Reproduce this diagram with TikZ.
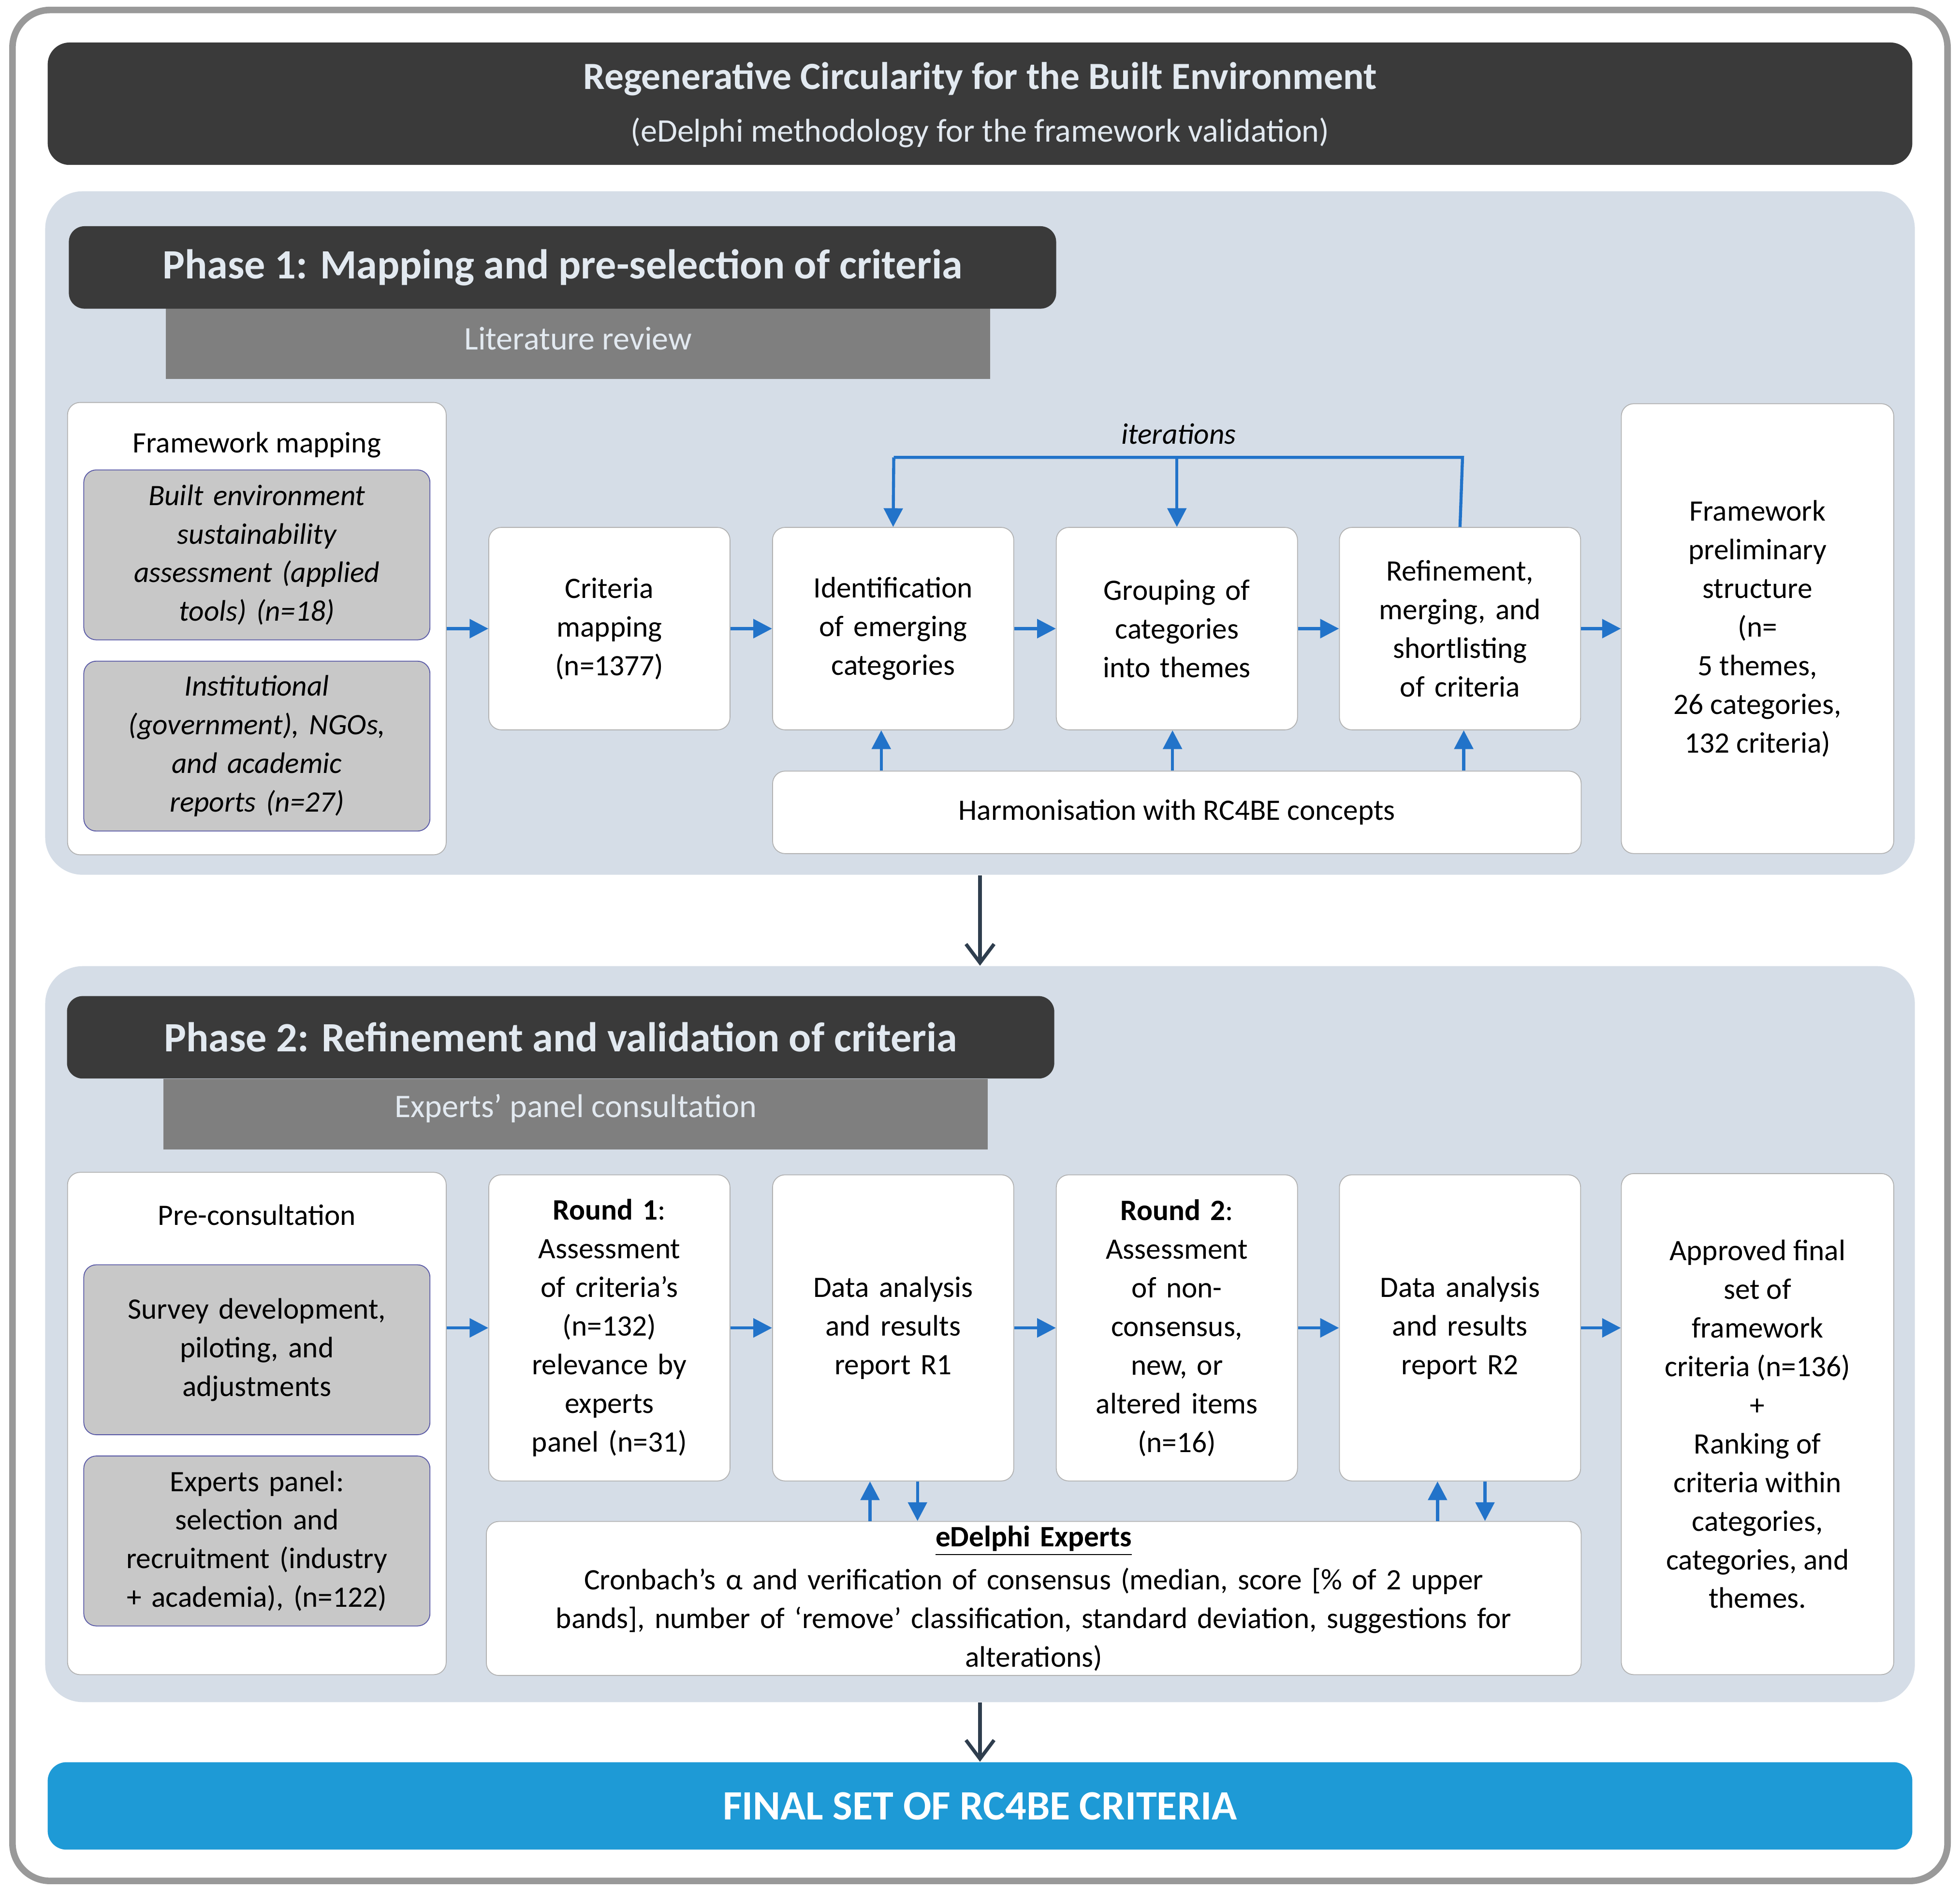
\documentclass[tikz,border=0pt]{standalone}
\usepackage{fontspec}
\setmainfont{Carlito}
\usetikzlibrary{arrows.meta}
\definecolor{darkbox}{HTML}{3A3A3A}
\definecolor{panelbg}{HTML}{D5DDE7}
\definecolor{barbg}{HTML}{7F7F7F}
\definecolor{graybox}{HTML}{C8C8C8}
\definecolor{flowblue}{HTML}{2273C9}
\definecolor{finalblue}{HTML}{1E9AD6}
\definecolor{darkarrow}{HTML}{2F3E4E}
\definecolor{headtext}{HTML}{E2E9F0}
\tikzset{
  body/.style={font=\fontsize{13.5}{17.6}\selectfont},
  box/.style={body, draw=gray!60, fill=white, rounded corners=0.2cm, align=center, inner sep=2pt},
  stage/.style={box, minimum width=3.86cm, text width=3.5cm},
  greybox/.style={box, fill=graybox, draw=gray!70!blue, minimum width=5.54cm, minimum height=2.72cm, text width=5.2cm},
  panel/.style={fill=panelbg, draw=none, rounded corners=0.6cm, minimum width=29.92cm},
  header/.style={fill=darkbox, text=headtext, rounded corners=0.25cm, minimum width=15.8cm, minimum height=1.32cm,
    font=\fontsize{19}{22}\selectfont\bfseries},
  subbar/.style={fill=barbg, draw=gray, text=headtext, minimum width=13.18cm, minimum height=1.12cm,
    font=\fontsize{15}{18}\selectfont},
  arr/.style={-{Triangle[length=0.3cm,width=0.3cm]}, flowblue, line width=1.4pt},
  flowline/.style={flowblue, line width=1.4pt},
  downarr/.style={-{Straight Barb[length=0.3cm,width=0.45cm]}, darkarrow, line width=1.6pt}
}
\begin{document}
\begin{tikzpicture}[x=0.02cm,y=-0.02cm]
\useasboundingbox (0,0) rectangle (1568,1513);
\draw[gray!80, line width=3pt, rounded corners=0.6cm] (10,8) rectangle (1558,1505);

% title
\node[fill=darkbox, rounded corners=0.35cm, minimum width=29.84cm, minimum height=1.96cm] (title) at (784,83) {};
\node[text=headtext, font=\fontsize{17.5}{21}\selectfont\bfseries] at (784,63) {Regenerative Circularity for the Built Environment};
\node[text=headtext, font=\fontsize{15}{18}\selectfont] at (784,106) {(eDelphi methodology for the framework validation)};

% phase 1
\node[panel, minimum height=10.94cm] (p1) at (784,426.5) {};
\node[subbar] (lit) at (462.5,275) {};
\node[text=headtext, font=\fontsize{15}{18}\selectfont] at (462.5,271) {Literature review};
\node[header] (h1) at (450,214) {Phase 1: Mapping and pre-selection of criteria};

\node[box, minimum width=6.06cm, minimum height=7.24cm] (fm) at (205.5,503) {};
\node[body] (fmlab) at (205.5,356) {Framework mapping};
\node[greybox, font=\fontsize{13.5}{17.6}\selectfont\itshape] (tools) at (205.5,444)
  {Built environment\\sustainability\\assessment (applied\\tools) (n=18)};
\node[greybox, font=\fontsize{13.5}{17.6}\selectfont\itshape] (reports) at (205.5,597)
  {Institutional\\(government), NGOs,\\and academic\\reports (n=27)};

\node[stage, minimum height=3.24cm] (crit) at (487.5,503) {Criteria\\mapping\\(n=1377)};
\node[stage, minimum height=3.24cm] (ident) at (714.5,503) {Identification\\of emerging\\categories};
\node[stage, minimum height=3.24cm] (group) at (941.5,503) {Grouping of\\categories\\into themes};
\node[stage, minimum height=3.24cm] (refine) at (1168,503) {Refinement,\\merging, and\\shortlisting\\of criteria};
\node[box, minimum width=4.36cm, minimum height=7.2cm] (prelim) at (1406,503)
  {Framework\\preliminary\\structure\\(n=\\5 themes,\\26 categories,\\132 criteria)};
\node[box, minimum width=12.94cm, minimum height=1.32cm] (harm) at (941.5,650) {Harmonisation with RC4BE concepts};

\draw[arr] (fm) -- (crit);
\draw[arr] (crit) -- (ident);
\draw[arr] (ident) -- (group);
\draw[arr] (group) -- (refine);
\draw[arr] (refine) -- (prelim);

\coordinate (itR) at (1170,366);
\coordinate (itL) at (715,366);
\node[body, font=\fontsize{13.5}{17.6}\selectfont\itshape] (itlab) at (943,347) {iterations};
\draw[flowline] (refine.north) -- (itR) -- (itL);
\draw[arr] (itL) -- (ident.north);
\draw[arr] (group.north |- itL) -- (group.north);

\draw[arr] ([xshift=-0.19cm]ident.south |- harm.north) -- ([xshift=-0.19cm]ident.south);
\draw[arr] ([xshift=-0.07cm]group.south |- harm.north) -- ([xshift=-0.07cm]group.south);
\draw[arr] ([xshift=0.06cm]refine.south |- harm.north) -- ([xshift=0.06cm]refine.south);

% phase 2
\node[panel, minimum height=11.78cm] (p2) at (784,1067.5) {};
\draw[downarr] (p1.south) -- (p2.north);
\node[subbar] (panelbar) at (460.5,891.5) {};
\node[text=headtext, font=\fontsize{15}{18}\selectfont] at (460.5,887) {Experts’ panel consultation};
\node[header] (h2) at (448.5,830) {Phase 2: Refinement and validation of criteria};

\node[box, minimum width=6.06cm, minimum height=8.04cm] (pre) at (205.5,1139) {};
\node[body] (prelab) at (205.5,972) {Pre-consultation};
\node[greybox] (survey) at (205.5,1080) {Survey development,\\piloting, and\\adjustments};
\node[greybox] (recruit) at (205.5,1233) {Experts panel:\\selection and\\recruitment (industry\\+ academia), (n=122)};

\node[stage, minimum height=4.9cm] (r1) at (487.5,1062.5)
  {\textbf{Round 1}:\\Assessment\\of criteria’s\\(n=132)\\relevance by\\experts\\panel (n=31)};
\node[stage, minimum height=4.9cm] (d1) at (714.5,1062.5) {Data analysis\\and results\\report R1};
\node[stage, minimum height=4.9cm] (r2) at (941.5,1062.5)
  {\textbf{Round 2}:\\Assessment\\of non-\\consensus,\\new, or\\altered items\\(n=16)};
\node[stage, minimum height=4.9cm] (d2) at (1168,1062.5) {Data analysis\\and results\\report R2};
\node[box, minimum width=4.36cm, minimum height=8.02cm] (final) at (1406,1139.5)
  {Approved final\\set of\\framework\\criteria (n=136)\\+\\Ranking of\\criteria within\\categories,\\categories, and\\themes.};
\node[box, minimum width=17.52cm, minimum height=2.44cm, text width=17cm] (edelphi) at (827,1279)
  {\underline{\textbf{eDelphi Experts}}\\[2pt]
   Cronbach’s α and verification of consensus (median, score [\% of 2 upper\\
   bands], number of ‘remove’ classification, standard deviation, suggestions for\\
   alterations)};

\draw[arr] (pre.east |- r1) -- (r1);
\draw[arr] (r1) -- (d1);
\draw[arr] (d1) -- (r2);
\draw[arr] (r2) -- (d2);
\draw[arr] (d2) -- (final.west |- d2);

\draw[arr] ([xshift=-0.37cm]d1.south |- edelphi.north) -- ([xshift=-0.37cm]d1.south);
\draw[arr] ([xshift=0.39cm]d1.south) -- ([xshift=0.39cm]d1.south |- edelphi.north);
\draw[arr] ([xshift=-0.36cm]d2.south |- edelphi.north) -- ([xshift=-0.36cm]d2.south);
\draw[arr] ([xshift=0.4cm]d2.south) -- ([xshift=0.4cm]d2.south |- edelphi.north);

% final
\node[fill=finalblue, rounded corners=0.3cm, minimum width=29.84cm, minimum height=1.4cm,
  text=white, font=\fontsize{19}{22}\selectfont\bfseries] (set) at (784,1445) {FINAL SET OF RC4BE CRITERIA};
\draw[downarr] (p2.south) -- (set.north);
\end{tikzpicture}
\end{document}
